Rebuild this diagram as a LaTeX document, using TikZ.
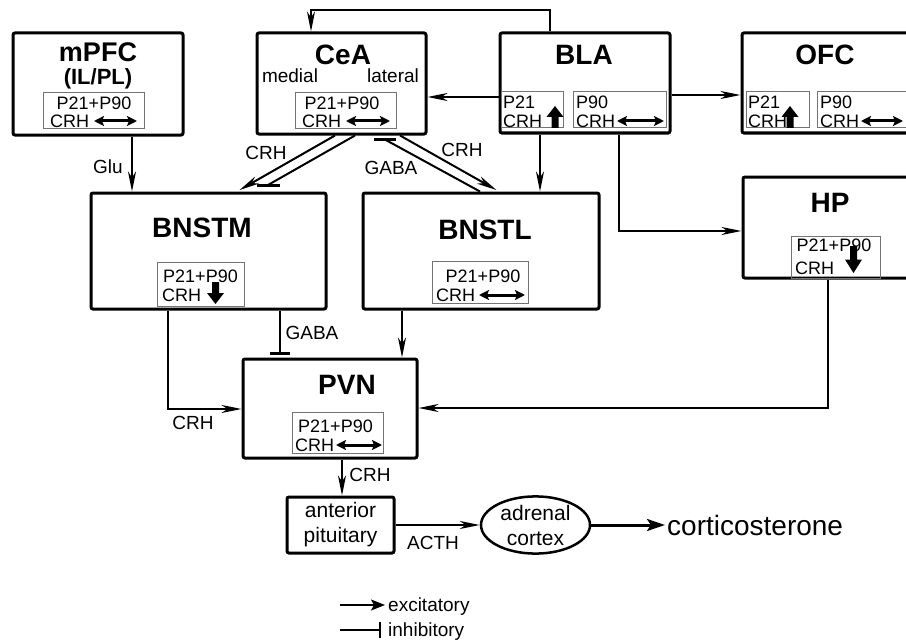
\documentclass[tikz,border=0pt]{standalone}
\usepackage{fontspec}
\setmainfont{Liberation Sans}
\usetikzlibrary{arrows.meta,shapes.geometric}
\tikzset{
 region/.style={draw, line width=3pt, rounded corners=2pt, inner sep=0pt},
 inbox/.style={draw=black!55, line width=1pt, inner sep=0pt},
 txt/.style={inner sep=0pt, text depth=0pt, font=\fontsize{19}{21}\selectfont},
 itxt/.style={inner sep=0pt, text depth=0pt, font=\fontsize{18}{20}\selectfont},
 hdr/.style={inner sep=0pt, text depth=0pt, font=\fontsize{28}{30}\selectfont\bfseries},
 arr/.style={line width=2pt, -{Stealth[length=20pt,width=8pt,inset=6pt]}},
 inh/.style={line width=2pt},
 tbar/.style={line width=3pt},
 dbl/.style={line width=3pt, {Stealth[length=10pt,width=10pt,inset=2pt]}-{Stealth[length=10pt,width=10pt,inset=2pt]}},
 uparr/.pic={\fill (-3.5,0) -- (-3.5,-11) -- (-8.5,-11) -- (0,-22) -- (8.5,-11) -- (3.5,-11) -- (3.5,0) -- cycle;},
 dnarr/.pic={\fill (-3.5,0) -- (-3.5,11) -- (-8.5,11) -- (0,22) -- (8.5,11) -- (3.5,11) -- (3.5,0) -- cycle;},
}
\begin{document}
\begin{tikzpicture}[x=1pt,y=-1pt]
\useasboundingbox (0,0) rectangle (906,642);
\clip (0,0) rectangle (906,642);
\fill[white] (0,0) rectangle (906,642);

% regions
\node[region, minimum width=170pt, minimum height=102pt] (mpfc) at (98,84) {};
\node[region, minimum width=169pt, minimum height=101pt] (cea) at (341.5,83.5) {};
\node[region, minimum width=170pt, minimum height=100pt] (bla) at (585,83) {};
\node[region, minimum width=170pt, minimum height=100pt] (ofc) at (827,83) {};
\node[region, minimum width=170pt, minimum height=101pt] (hp) at (828,227.5) {};
\node[region, minimum width=235pt, minimum height=116pt] (bnstm) at (208.5,251) {};
\node[region, minimum width=236pt, minimum height=116pt] (bnstl) at (481,251) {};
\node[region, minimum width=174pt, minimum height=99pt] (pvn) at (330,408.5) {};
\node[region, minimum width=107pt, minimum height=56pt, align=center, font=\fontsize{21}{25}\selectfont] (pit) at (340.5,525) {anterior\\pituitary};
\node[draw, ellipse, line width=2.5pt, inner sep=0pt, minimum width=109pt, minimum height=53pt, align=center, font=\fontsize{21}{25}\selectfont] (adr) at (535.5,525) {adrenal\\cortex};
\node[inner sep=0pt, text depth=0pt, anchor=west, font=\fontsize{28}{30}\selectfont] (cort) at (667,525) {corticosterone};

% headers
\node[inner sep=0pt, text depth=0pt, font=\fontsize{27}{29}\selectfont\bfseries] (mpfcT) at (98,52) {mPFC};
\node[inner sep=0pt, text depth=0pt, font=\fontsize{22}{24}\selectfont\bfseries] (ilpl) at (98,77) {(IL/PL)};
\node[hdr] (ceaT) at (343,55) {CeA};
\node[txt] (medT) at (290,76) {medial};
\node[txt] (latT) at (393,76) {lateral};
\node[hdr] (blaT) at (584,55) {BLA};
\node[hdr] (ofcT) at (825,55) {OFC};
\node[hdr] (hpT) at (830,203) {HP};
\node[hdr] (bnstmT) at (202,228) {BNSTM};
\node[hdr] (bnstlT) at (485,230) {BNSTL};
\node[hdr] (pvnT) at (347,385) {PVN};

% inner boxes
\node[inbox, minimum width=101pt, minimum height=36pt] (mpfcI) at (93.5,111) {};
\node[inbox, minimum width=101pt, minimum height=36pt] (ceaI) at (345.5,111) {};
\node[inbox, minimum width=62pt, minimum height=36pt] (blaIa) at (532,110) {};
\node[inbox, minimum width=93pt, minimum height=36pt] (blaIb) at (619.5,110) {};
\node[inbox, minimum width=63pt, minimum height=36pt] (ofcIa) at (777.5,110) {};
\node[inbox, minimum width=93pt, minimum height=36pt] (ofcIb) at (863.5,110) {};
\node[inbox, minimum width=87pt, minimum height=44pt] (bnstmI) at (200.5,284) {};
\node[inbox, minimum width=96pt, minimum height=42pt] (bnstlI) at (480,282) {};
\node[inbox, minimum width=89pt, minimum height=42pt] (hpI) at (835.5,257) {};
\node[inbox, minimum width=91pt, minimum height=41pt] (pvnI) at (337.5,432.5) {};

% inner texts
\node[itxt] (t1) at (94,103) {P21+P90};
\node[itxt, anchor=west] (c1) at (50,121) {CRH};
\draw[dbl] (94,121) -- (137,121);

\node[itxt] (t2) at (342,103) {P21+P90};
\node[itxt, anchor=west] (c2) at (302,121) {CRH};
\draw[dbl] (346,121) -- (390,121);

\node[itxt, anchor=west] (t3) at (503,102) {P21};
\node[itxt, anchor=west] (c3) at (503,121) {CRH};
\pic at (555,128) {uparr};

\node[itxt, anchor=west] (t4) at (576,102) {P90};
\node[itxt, anchor=west] (c4) at (576,121) {CRH};
\draw[dbl] (617,121) -- (664,121);

\node[itxt, anchor=west] (t5) at (748,102) {P21};
\node[itxt, anchor=west] (c5) at (748,121) {CRH};
\pic at (790,128) {uparr};

\node[itxt, anchor=west] (t6) at (820,102) {P90};
\node[itxt, anchor=west] (c6) at (820,121) {CRH};
\draw[dbl] (861,121) -- (903,121);

\node[itxt] (t7) at (200.5,276) {P21+P90};
\node[itxt, anchor=west] (c7) at (162,295) {CRH};
\pic at (215.5,282) {dnarr};

\node[itxt] (t8) at (483,276) {P21+P90};
\node[itxt, anchor=west] (c8) at (436,295) {CRH};
\draw[dbl] (479,295) -- (525,295);

\node[itxt] (t9) at (834,245) {P21+P90};
\node[itxt, anchor=west] (c9) at (795,268) {CRH};
\pic[yscale=1.23] at (853.5,246) {dnarr};

\node[itxt] (t10) at (335.5,426) {P21+P90};
\node[itxt, anchor=west] (c10) at (295,445) {CRH};
\draw[dbl] (336,445) -- (382,445);

% connector labels
\node[txt] (glu) at (108,167) {Glu};
\node[txt] (crhA) at (266,153) {CRH};
\node[txt] (crhB) at (462,150) {CRH};
\node[txt] (gabaA) at (391,168) {GABA};
\node[txt] (gabaB) at (312,333) {GABA};
\node[txt] (crhC) at (193,423) {CRH};
\node[txt] (crhD) at (370,475) {CRH};
\node[txt] (acth) at (433,543) {ACTH};

% connectors
\draw[arr] (mpfc.south -| 132,0) -- (bnstm.north -| 132,0);
\draw[arr] (bla.north -| 550,0) -- ++(0,-21) -| (cea.north -| 311,0);
\draw[arr] (bla.west |- 0,97) -- (cea.east |- 0,97);
\draw[arr] (bla.east |- 0,95) -- (ofc.west |- 0,95);
\draw[arr] (bla.south -| 540,0) -- (bnstl.north -| 540,0);
\draw[arr] (bla.south -| 619,0) |- (hp.west |- 0,231);

\coordinate (bar1) at (268,185);
\coordinate (bar2) at (384,139);
\coordinate (bar3) at (280,353);
\draw[arr, shorten >=3pt] (cea.south -| 335,0) -- (bnstm.north -| 237,0);
\draw[inh] (cea.south -| 355,0) -- (bar1);
\draw[tbar] ([xshift=-11pt]bar1) -- ([xshift=12pt]bar1);
\draw[inh] (bnstl.north -| 480,0) -- (bar2);
\draw[tbar] ([xshift=-10pt]bar2) -- ([xshift=12pt]bar2);
\draw[arr, shorten >=3pt] (cea.south -| 400,0) -- (bnstl.north -| 499,0);

\draw[arr] (bnstm.south -| 168,0) |- (pvn.west |- 0,409);
\draw[inh] (bnstm.south -| 280,0) -- (bar3);
\draw[tbar] ([xshift=-10pt]bar3) -- ([xshift=10pt]bar3);
\draw[arr] (bnstl.south -| 402,0) -- (pvn.north -| 402,0);
\draw[arr] (hp.south -| 828,0) |- (pvn.east |- 0,408);
\draw[arr] (pvn.south -| 342,0) -- (pit.north -| 342,0);
\draw[arr] (pit.east) -- (adr.west);
\draw[line width=3pt, -{Stealth[length=18pt,width=12pt,inset=4pt]}, shorten >=2pt] (adr.east) -- (cort.west);

% legend
\coordinate (ex1) at (340,605);
\node[txt, anchor=west] (exT) at (388,605) {excitatory};
\draw[line width=2pt, -{Stealth[length=14pt,width=11pt,inset=3pt]}, shorten >=3pt] (ex1) -- (exT.west);
\coordinate (in1) at (340,630);
\coordinate (in2) at (380,630);
\node[txt, anchor=west] (inT) at (388,630) {inhibitory};
\draw[inh] (in1) -- (in2);
\draw[line width=2.5pt] ([yshift=8pt]in2) -- ([yshift=-8pt]in2);
\end{tikzpicture}
\end{document}
